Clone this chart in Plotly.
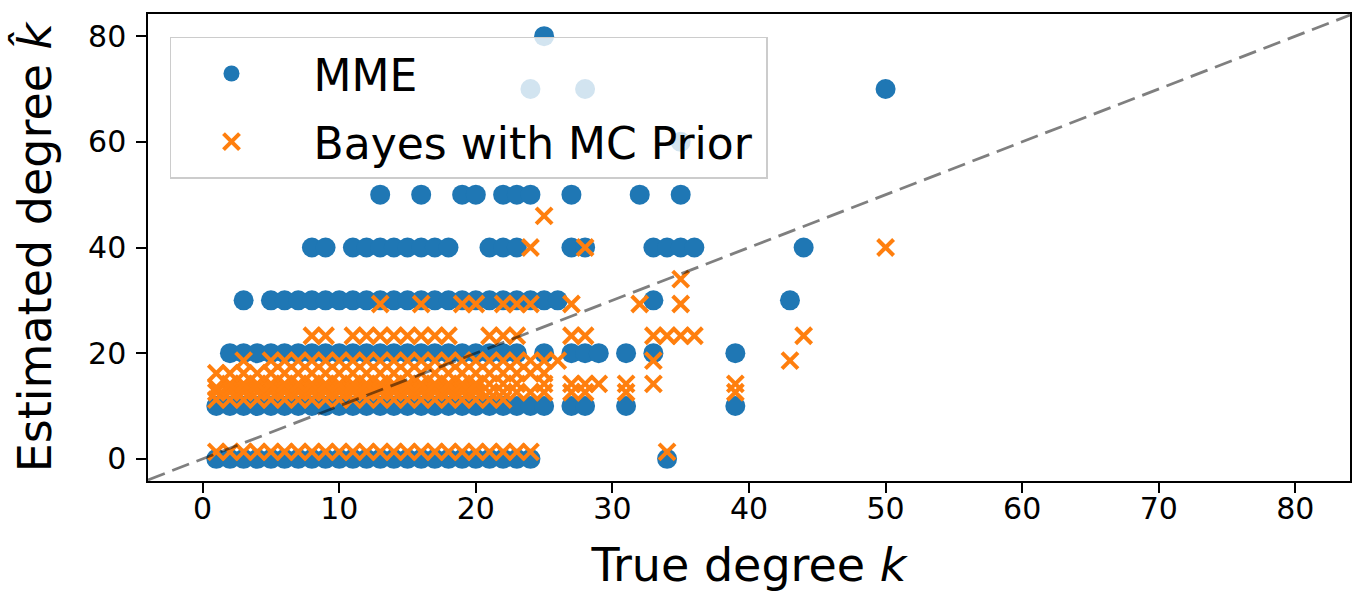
import plotly.graph_objects as go

# ---- MME estimates: rows of (estimated degree, true degrees) ----
mme_y0_x = [1, 2, 3, 4, 5, 6, 7, 8, 9, 10, 11, 12, 13, 14, 15, 16, 17, 18, 19, 20, 21, 22, 23, 24, 34]
mme_y10_x = [1, 2, 3, 4, 5, 6, 7, 8, 9, 10, 11, 12, 13, 14, 15, 16, 17, 18, 19, 20, 21, 22, 23, 24, 25, 27, 28, 31, 39]
mme_y20_x = [2, 3, 4, 5, 6, 7, 8, 9, 10, 11, 12, 13, 14, 15, 16, 17, 18, 19, 20, 21, 22, 23, 25, 27, 28, 29, 31, 33, 39]
mme_y30_x = [3, 5, 6, 7, 8, 9, 10, 11, 12, 13, 14, 15, 16, 17, 18, 19, 20, 21, 22, 23, 24, 25, 26, 33, 43]
mme_y40_x = [8, 9, 11, 12, 13, 14, 15, 16, 17, 18, 21, 22, 23, 27, 28, 33, 34, 35, 36, 44]
mme_y50_x = [13, 16, 19, 20, 22, 23, 24, 27, 32, 35]
mme_y60_x = [35]
mme_y70_x = [24, 28, 50]
mme_y80_x = [25]
mme_levels = [0, 10, 20, 30, 40, 50, 60, 70, 80]

# ---- Bayes with MC prior estimates ----
bayes_y1_x = [1, 2, 3, 4, 5, 6, 7, 8, 9, 10, 11, 12, 13, 14, 15, 16, 17, 18, 19, 20, 21, 22, 23, 24, 34]
bayes_y11_x = [1, 2, 3, 4, 5, 6, 7, 8, 9, 10, 11, 12, 13, 14, 15, 16, 17, 18, 19, 20, 21, 22]
bayes_y12_x = [1, 2, 3, 4, 5, 6, 7, 8, 9, 10, 11, 12, 13, 14, 15, 16, 17, 18, 19, 20, 21, 22, 23, 24, 25, 27, 28, 31, 39]
bayes_y13_x = [1, 2, 3, 4, 5, 6, 7, 8, 9, 10, 11, 12, 13, 14, 15, 16, 17, 18, 19, 20]
bayes_y14_x = [2, 3, 4, 5, 6, 7, 8, 9, 10, 11, 12, 13, 14, 15, 16, 17, 18, 19, 20, 21, 22, 23, 25, 27, 28, 29, 31, 33, 39]
bayes_y16_x = [1, 2, 3, 4, 5, 6, 7, 8, 9, 10, 11, 12, 13, 14, 15, 16, 17, 18, 19, 20, 21, 22, 23, 24, 25]
bayes_y18_x = [3, 5, 6, 7, 8, 9, 10, 11, 12, 13, 14, 15, 16, 17, 18, 19, 20, 21, 22, 23, 24, 25, 26, 33, 43]
bayes_y23_x = [8, 9, 11, 12, 13, 14, 15, 16, 17, 18, 21, 22, 23, 27, 28, 33, 34, 35, 36, 44]
bayes_y29_x = [13, 16, 19, 20, 22, 23, 24, 27, 32, 35]
bayes_y34_x = [35]
bayes_y40_x = [24, 28, 50]
bayes_y46_x = [25]
bayes_levels = [1.3, 11.2, 12.6, 13.5, 14.2, 16.2, 18.6, 23.3, 29.3, 34.0, 40.0, 46.0]

diag = [-4, 84]
x_ticks = [0, 10, 20, 30, 40, 50, 60, 70, 80]
y_ticks = [0, 20, 40, 60, 80]

mme_rows = [mme_y0_x, mme_y10_x, mme_y20_x, mme_y30_x, mme_y40_x,
            mme_y50_x, mme_y60_x, mme_y70_x, mme_y80_x]
bayes_rows = [bayes_y1_x, bayes_y11_x, bayes_y12_x, bayes_y13_x, bayes_y14_x, bayes_y16_x,
              bayes_y18_x, bayes_y23_x, bayes_y29_x, bayes_y34_x, bayes_y40_x, bayes_y46_x]

mme_x, mme_y = [], []
for lvl, xs in zip(mme_levels, mme_rows):
    mme_x += xs
    mme_y += [lvl] * len(xs)

bayes_x, bayes_y = [], []
for lvl, xs in zip(bayes_levels, bayes_rows):
    bayes_x += xs
    bayes_y += [lvl] * len(xs)

FONT = "DejaVu Sans"

fig = go.Figure()
fig.add_trace(go.Scatter(
    x=mme_x, y=mme_y, mode="markers", name="\u2002MME", legendgroup="a",
    marker=dict(symbol="circle", size=20, color="#1f77b4", line=dict(width=0)),
))
fig.add_trace(go.Scatter(
    x=bayes_x, y=bayes_y, mode="markers", name="\u2002Bayes with MC Prior\u2009", legendgroup="b",
    marker=dict(symbol="x-thin", size=16, color="#ff7f0e",
                line=dict(width=4, color="#ff7f0e")),
))
fig.add_trace(go.Scatter(
    x=diag, y=diag, mode="lines", showlegend=False,
    line=dict(color="rgba(0,0,0,0.5)", width=2.8, dash="18px,8px"),
))

axis_common = dict(
    showline=True, linecolor="black", linewidth=1.5, mirror=True,
    ticks="outside", ticklen=10, tickwidth=1.5, tickcolor="black",
    showgrid=False, zeroline=False,
    tickfont=dict(family=FONT, size=30, color="black"),
)

fig.update_layout(
    width=1356, height=592,
    margin=dict(l=148, r=4, t=14, b=111),
    paper_bgcolor="white", plot_bgcolor="white",
    font=dict(family=FONT, color="black"),
    xaxis=dict(range=[-4.0, 84.0], tickvals=x_ticks, ticklabelstandoff=-10,
               title=dict(text="True degree <i>k</i>", font=dict(family=FONT, size=46), standoff=26),
               **axis_common),
    yaxis=dict(range=[-4.2, 84.2], tickvals=y_ticks, ticklabelstandoff=4,
               title=dict(text="Estimated degree <i>k\u0302</i>", font=dict(family=FONT, size=46), standoff=22),
               **axis_common),
    legend=dict(
        x=0.0183, y=0.951, xanchor="left", yanchor="top",
        bgcolor="rgba(255,255,255,0.8)", bordercolor="#cccccc", borderwidth=1.5,
        font=dict(family=FONT, size=44, color="black"),
        itemwidth=110, tracegroupgap=8,
    ),
)

fig.write_html("out.html")
